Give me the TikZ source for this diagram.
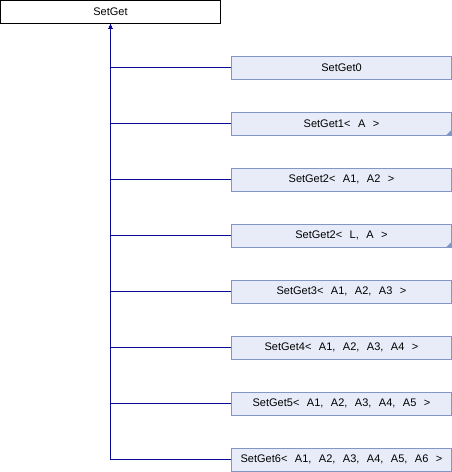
\documentclass[tikz,border=0pt]{standalone}
\usepackage{fontspec}
\setmainfont{Liberation Sans}
\usetikzlibrary{positioning,arrows.meta}

\definecolor{bordeazul}{RGB}{132,150,200}
\definecolor{rellenoazul}{RGB}{232,236,248}
\definecolor{lineaazul}{RGB}{10,10,150}

\newcommand{\letraclase}{\fontsize{11}{12}\selectfont\spaceskip 7.5pt\relax}

\tikzset{
  clase/.style={draw=black, fill=white, minimum width=220pt, minimum height=23pt,
    inner sep=0pt, font=\letraclase, line width=0.9pt},
  hija/.style={clase, draw=bordeazul, fill=rellenoazul},
  herencia/.style={draw=lineaazul, line width=1pt},
  punta/.style={-{Latex[length=5pt,width=4.5pt]}},
  esquina/.style={fill=bordeazul}
}

\begin{document}
\begin{tikzpicture}[x=1pt,y=-1pt]

    \useasboundingbox (0,0) rectangle (452,472);

    % clase base
    \node[clase] (base) at (110.5,12) {SetGet};

    % clases derivadas
    \foreach \n/\txt [count=\i from 0] in {
        h0/{SetGet0},
        h1/{SetGet1< A >},
        h2/{SetGet2< A1, A2 >},
        h3/{SetGet2< L, A >},
        h4/{SetGet3< A1, A2, A3 >},
        h5/{SetGet4< A1, A2, A3, A4 >},
        h6/{SetGet5< A1, A2, A3, A4, A5 >},
        h7/{SetGet6< A1, A2, A3, A4, A5, A6 >}}
    {
        \node[hija] (\n) at (341.5,67.5+56*\i) {\txt};
        % lineas de herencia
        \draw[herencia, punta] (\n.west) -| (base.south);
    }

    % marcas de clases con mas hijas
    \fill[esquina] (h1.south east) -- ++(0,-6) -- ++(-6,6) -- cycle;
    \fill[esquina] (h3.south east) -- ++(0,-6) -- ++(-6,6) -- cycle;

\end{tikzpicture}
\end{document}
